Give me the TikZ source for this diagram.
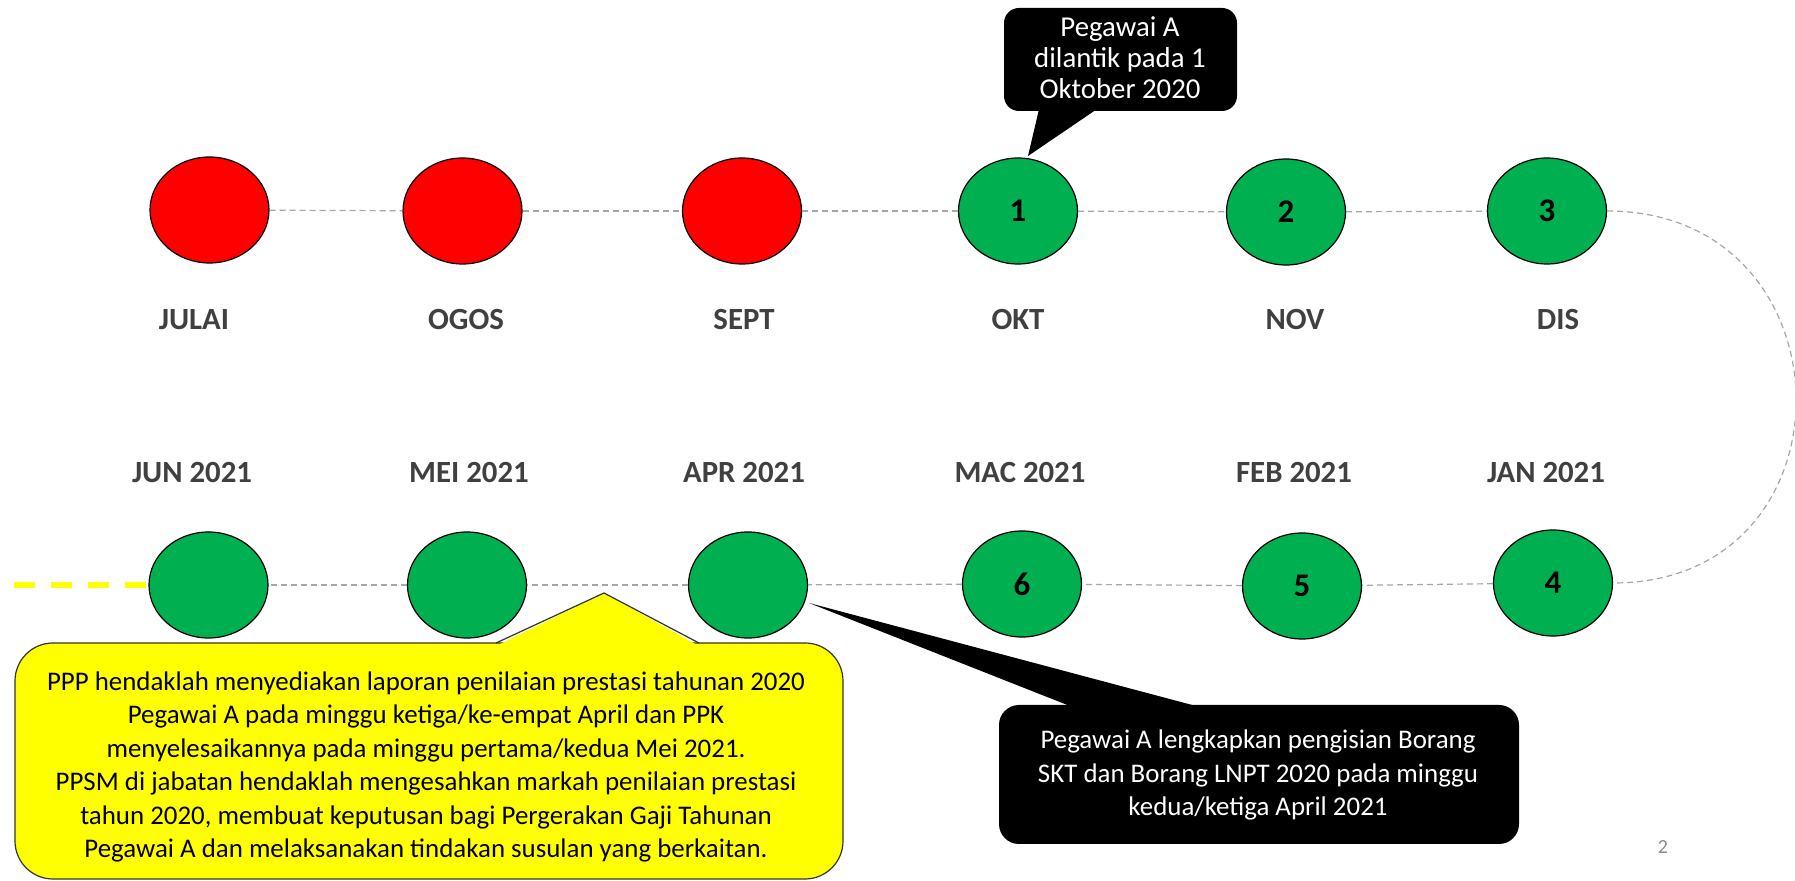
\documentclass[tikz,border=0pt]{standalone}
\usepackage{fontspec}
\setmainfont{Carlito}
\usetikzlibrary{shapes.geometric}
\definecolor{redfill}{HTML}{FF0000}
\definecolor{greenfill}{HTML}{00B050}
\definecolor{labelgray}{HTML}{404040}
\definecolor{linegray}{HTML}{A6A6A6}
\definecolor{yellowfill}{HTML}{FFFF00}
\definecolor{pagegray}{HTML}{8C8C8C}
\begin{document}
\begin{tikzpicture}[x=0.5pt,y=-0.5pt,
  month/.style={ellipse, draw=black, line width=0.6pt, minimum width=59.5pt, minimum height=53pt, inner sep=0pt, font=\fontsize{16.5}{19}\selectfont\bfseries},
  redm/.style={month, fill=redfill},
  greenm/.style={month, fill=greenfill},
  mlabel/.style={font=\fontsize{15.4}{18}\selectfont\bfseries, text=labelgray},
  link/.style={draw=linegray, dash pattern=on 3pt off 2pt, line width=0.6pt},
  calltext/.style={align=center, font=\fontsize{13.45}{16.75}\selectfont},
]
\useasboundingbox (0,0) rectangle (1795,881);

% top row
\node[redm] (jul) at (209.5,210) {};
\node[redm] (ogo) at (462.5,211) {};
\node[redm] (sep) at (742,211) {};
\node[greenm] (okt) at (1018,211) {1};
\node[greenm] (nov) at (1286,212) {2};
\node[greenm] (dis) at (1547,211) {3};
% bottom row
\node[greenm] (jun) at (208.5,585) {};
\node[greenm] (mei) at (467,585) {};
\node[greenm] (apr) at (748,585) {};
\node[greenm] (mac) at (1022,584) {6};
\node[greenm] (feb) at (1302,586) {5};
\node[greenm] (jan) at (1553,583) {4};

% labels
\node[mlabel] (ljul) at (194,320) {JULAI};
\node[mlabel] (logo) at (466,320) {OGOS};
\node[mlabel] (lsep) at (744,320) {SEPT};
\node[mlabel] (lokt) at (1018,320) {OKT};
\node[mlabel] (lnov) at (1295,320) {NOV};
\node[mlabel] (ldis) at (1558,320) {DIS};
\node[mlabel] (ljun) at (192,473) {JUN 2021};
\node[mlabel] (lmei) at (469,473) {MEI 2021};
\node[mlabel] (lapr) at (744,473) {APR 2021};
\node[mlabel] (lmac) at (1020,473) {MAC 2021};
\node[mlabel] (lfeb) at (1294,473) {FEB 2021};
\node[mlabel] (ljan) at (1546,473) {JAN 2021};

% connectors
\draw[link] (jul) -- (ogo);
\draw[link] (ogo) -- (sep);
\draw[link] (sep) -- (okt);
\draw[link] (okt) -- (nov);
\draw[link] (nov) -- (dis);
\draw[link] (dis.east) .. controls +(248,0) and +(248,0) .. (jan.east);
\draw[link] (jan) -- (feb);
\draw[link] (feb) -- (mac);
\draw[link] (mac) -- (apr);
\draw[link] (apr) -- (mei);
\draw[link] (mei) -- (jun);
\coordinate (ystart) at (14,585);
\draw[draw=yellowfill, line width=3pt, dash pattern=on 10.5pt off 8pt] (ystart) -- (jun.west);

% top callout
\node[fill=black, rounded corners=7.5pt, minimum width=116.5pt, minimum height=51.5pt, inner sep=0pt] (topbox) at (1120.5,59.5) {};
\fill[black] (1040,105) -- (1028,156) -- (1103,105) -- cycle;
\node[calltext, text=white, font=\fontsize{14.4}{15.5}\selectfont] (toptext) at (1120,58) {Pegawai A\\dilantik pada 1\\Oktober 2020};

% bottom black callout
\node[fill=black, rounded corners=10pt, minimum width=260pt, minimum height=69.5pt, inner sep=0pt] (botbox) at (1259,774.5) {};
\fill[black] (1080,710) -- (809,603) -- (1211,710) -- cycle;
\node[calltext, text=white] (bottext) at (1258,775) {Pegawai A lengkapkan pengisian Borang\\SKT dan Borang LNPT 2020 pada minggu\\kedua/ketiga April 2021};

% yellow callout
\node[draw=black!80, line width=0.6pt, fill=yellowfill, rounded corners=19pt, minimum width=414pt, minimum height=118pt, inner sep=0pt] (ybox) at (429,761) {};
\fill[yellowfill] (496,646) -- (604,593) -- (699,646) -- cycle;
\draw[draw=black!80, line width=0.6pt] (496,643) -- (604,593) -- (699,643);
\node[calltext, text=black] (ytext) at (426,767) {PPP hendaklah menyediakan laporan penilaian prestasi tahunan 2020\\Pegawai A pada minggu ketiga/ke-empat April dan PPK\\menyelesaikannya pada minggu pertama/kedua Mei 2021.\\PPSM di jabatan hendaklah mengesahkan markah penilaian prestasi\\tahun 2020, membuat keputusan bagi Pergerakan Gaji Tahunan\\Pegawai A dan melaksanakan tindakan susulan yang berkaitan.};

\node[font=\fontsize{10}{12}\selectfont, text=pagegray] (pnum) at (1663,847) {2};
\end{tikzpicture}
\end{document}
